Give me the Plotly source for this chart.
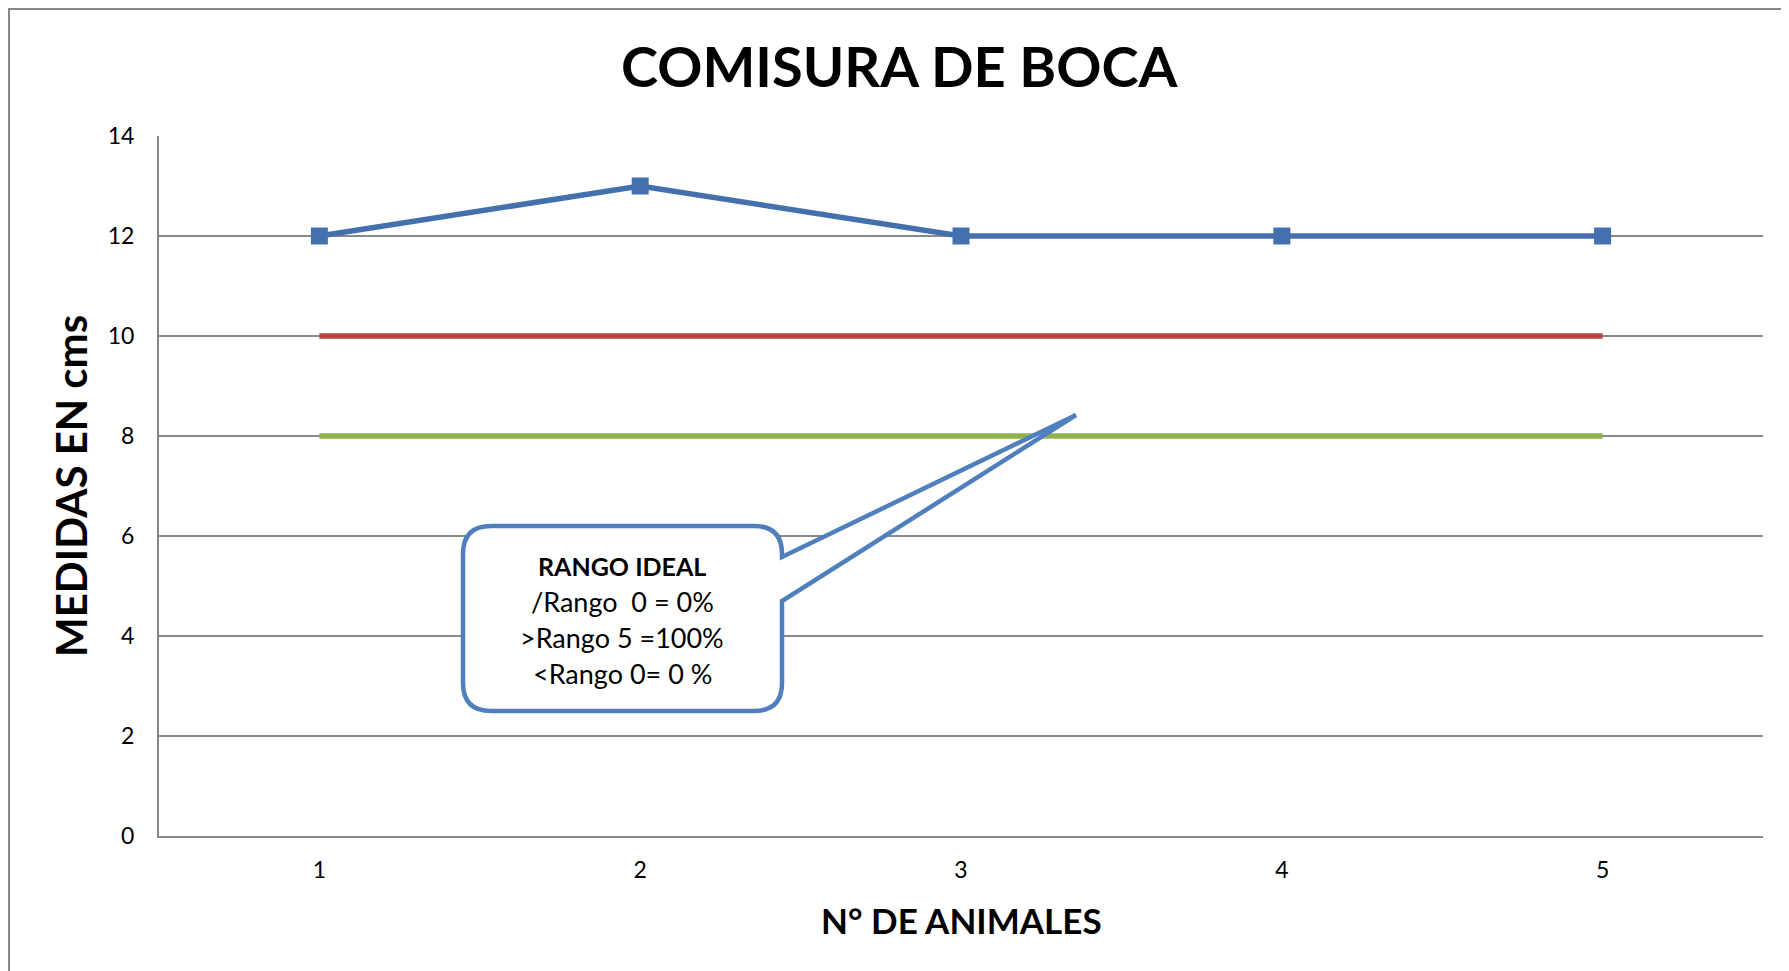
import plotly.graph_objects as go

# ---- data ----
animales = [1, 2, 3, 4, 5]
comisura = [12, 13, 12, 12, 12]
limite_sup = [10, 10, 10, 10, 10]
limite_inf = [8, 8, 8, 8, 8]
y_ticks = [0, 2, 4, 6, 8, 10, 12, 14]

titulo = "COMISURA DE BOCA"
titulo_y = "MEDIDAS EN cms"
titulo_x = "N° DE ANIMALES"
callout_lines = ["<b>RANGO IDEAL</b>", "/Rango  0 = 0%", ">Rango 5 =100%", "<Rango 0= 0 %"]

# ---- layout geometry (pixels, page coords; page body has 8px margin) ----
OFF = 8
W, H = 1789 - OFF, 971 - OFF
ML, MT = 159 - OFF, 136 - OFF
MR = W - (1763 - OFF)
MB = H - (836 - OFF)
PW, PH = W - ML - MR, H - MT - MB
FONT = "Lato"

def px(x):  # page pixel -> paper x
    return (x - OFF - ML) / PW

def py(y):  # page pixel -> paper y
    return (H - MB - (y - OFF)) / PH

BLUE = "#4471ad"
RED = "#bc4542"
GREEN = "#91b34d"
GRID = "#898989"

fig = go.Figure()
fig.add_trace(go.Scatter(x=animales, y=limite_sup, mode="lines",
                         line=dict(color=RED, width=5.5), showlegend=False, hoverinfo="skip"))
fig.add_trace(go.Scatter(x=animales, y=limite_inf, mode="lines",
                         line=dict(color=GREEN, width=5.5), showlegend=False, hoverinfo="skip"))
fig.add_trace(go.Scatter(x=animales, y=comisura, mode="lines+markers",
                         line=dict(color=BLUE, width=5.5),
                         marker=dict(symbol="square", size=17, color=BLUE),
                         showlegend=False))

# callout box (paper coords from pixel geometry)
bx0, bx1, by0, by1 = px(463), px(782), py(711), py(526)
rx, ry = 28 / PW, 28 / PH
ta, tb = py(557), py(601)
tipx, tipy = px(1076), py(415)
path = (f"M {bx0+rx},{by1} L {bx1-rx},{by1} Q {bx1},{by1} {bx1},{by1-ry} "
        f"L {bx1},{ta} L {tipx},{tipy} L {bx1},{tb} "
        f"L {bx1},{by0+ry} Q {bx1},{by0} {bx1-rx},{by0} "
        f"L {bx0+rx},{by0} Q {bx0},{by0} {bx0},{by0+ry} "
        f"L {bx0},{by1-ry} Q {bx0},{by1} {bx0+rx},{by1} Z")

# outer chart frame: only left and top edges are visible in the picture
frame_path = f"M {px(OFF + 1)},{py(1300)} L {px(OFF + 1)},{py(OFF + 1)} L {px(2000)},{py(OFF + 1)}"

shapes = [
    dict(type="path", xref="paper", yref="paper", path=path,
         fillcolor="white", line=dict(color="#4f7fbd", width=4.5), layer="above"),
    dict(type="path", xref="paper", yref="paper", path=frame_path,
         line=dict(color="#878787", width=2), layer="below"),
]

annotations = [
    dict(text=f"<b>{titulo}</b>", x=px(899), y=py(66), xref="paper", yref="paper",
         showarrow=False, xanchor="center", yanchor="middle",
         font=dict(family=FONT, size=56, color="black")),
    dict(text=f"<b>{titulo_y}</b>", x=px(71), y=py(486), xref="paper", yref="paper",
         showarrow=False, xanchor="center", yanchor="middle", textangle=-90,
         font=dict(family=FONT, size=42, color="black")),
    dict(text=f"<b>{titulo_x}</b>", x=px(961), y=py(920), xref="paper", yref="paper",
         showarrow=False, xanchor="center", yanchor="middle",
         font=dict(family=FONT, size=35, color="black")),
]
line_y = [566, 601, 637, 673]
line_sz = [25, 27, 27, 27]
for t, yy, sz in zip(callout_lines, line_y, line_sz):
    annotations.append(dict(text=t, x=px(622), y=py(yy), xref="paper", yref="paper",
                            showarrow=False, xanchor="center", yanchor="middle",
                            font=dict(family=FONT, size=sz, color="black")))

fig.update_layout(
    width=W, height=H,
    margin=dict(l=ML, r=MR, t=MT, b=MB, pad=0),
    paper_bgcolor="white", plot_bgcolor="white",
    font=dict(family=FONT, color="black"),
    shapes=shapes, annotations=annotations,
    xaxis=dict(range=[0.5, 5.5], tickvals=animales, ticktext=[str(a) for a in animales],
               showgrid=False, zeroline=False, showline=True, linecolor=GRID, linewidth=2,
               ticks="", ticklabelstandoff=12, tickfont=dict(family=FONT, size=23, color="black")),
    yaxis=dict(range=[0, 14], tickvals=y_ticks, showgrid=True, gridcolor=GRID, gridwidth=2,
               zeroline=False, showline=True, linecolor=GRID, linewidth=2,
               ticks="", ticklabelstandoff=18, tickfont=dict(family=FONT, size=23, color="black")),
)

fig.write_html("out.html")
